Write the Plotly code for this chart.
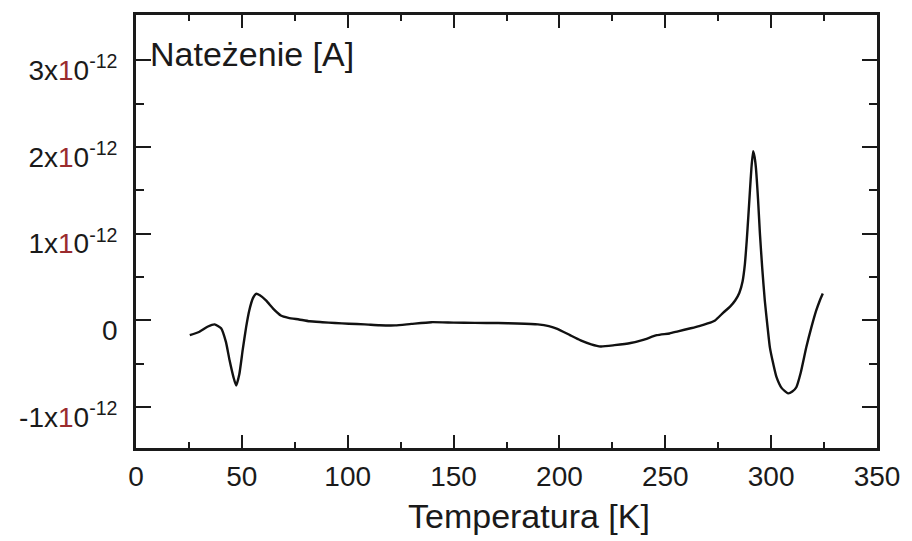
import plotly.graph_objects as go

# Temperature [K] and current [A]
temperature = [25.4, 30, 34, 37.1, 40.2, 42.5, 44.2, 46, 47.3, 48.8, 50.4, 52, 53.5, 55.3, 56.7, 58.5, 61.4, 65, 68.4, 72, 77, 82, 88, 94, 100.5,
               108, 115, 122.4, 130, 139.5, 150, 160, 171, 180, 189.8, 195, 199, 205, 210, 215, 219.5, 226, 233.6, 240, 246, 252, 256,
               262, 266, 270, 273.5, 277.4, 280.6, 283, 285, 286.5, 287.6, 288.5, 289.2, 290, 290.7, 291.5, 292.2, 292.8, 293.8, 294.7,
               295.8, 297, 298.2, 299.4, 301, 302.5, 305, 308, 310, 311.9, 314, 316.6, 319, 321.3, 323, 324.4]
current_e12 = [-0.17, -0.13, -0.07, -0.045, -0.09, -0.25, -0.46, -0.65, -0.75, -0.62, -0.34, -0.08, 0.115, 0.26, 0.307, 0.29, 0.23, 0.13, 0.057, 0.03, 0.011, -0.01, -0.02, -0.03, -0.038,
               -0.045, -0.055, -0.057, -0.04, -0.02, -0.025, -0.028, -0.03, -0.035, -0.046, -0.065, -0.096, -0.17, -0.23, -0.275, -0.3, -0.285, -0.26, -0.22, -0.17, -0.15, -0.125,
               -0.09, -0.065, -0.035, 0.0, 0.09, 0.16, 0.23, 0.32, 0.45, 0.65, 0.93, 1.19, 1.5, 1.76, 1.95, 1.88, 1.76, 1.4, 1.0,
               0.6, 0.23, -0.05, -0.31, -0.5, -0.65, -0.78, -0.84, -0.82, -0.77, -0.6, -0.31, -0.08, 0.115, 0.23, 0.31]
current = [v * 1e-12 for v in current_e12]

y_tick_values = [-1e-12, 0, 1e-12, 2e-12, 3e-12]
red1 = "<span style='color:#9a2b2e'>1</span>"
y_tick_labels = ["-1x" + red1 + "0<sup>-12</sup>", "0", "1x" + red1 + "0<sup>-12</sup>",
                 "2x" + red1 + "0<sup>-12</sup>", "3x" + red1 + "0<sup>-12</sup>"]
x_tick_values = [0, 50, 100, 150, 200, 250, 300, 350]

FONT = "Liberation Sans, Arial, sans-serif"
INK = "#1a1a1a"

fig = go.Figure()
fig.add_trace(go.Scatter(x=temperature, y=current, mode="lines",
                         line=dict(color="#111111", width=2.4, shape="spline", smoothing=0.5),
                         showlegend=False, hoverinfo="skip"))

axis_common = dict(showline=True, linecolor=INK, linewidth=2.8, mirror="ticks", ticks="inside",
                   tickcolor=INK, showgrid=False, zeroline=False)

fig.update_xaxes(range=[0, 350], tickvals=x_tick_values, ticklen=13, tickwidth=2,
                 minor=dict(dtick=25, ticks="inside", ticklen=6, tickwidth=1.6, tickcolor=INK),
                 tickfont=dict(family=FONT, size=28, color=INK), ticklabelstandoff=1, **axis_common)
fig.update_yaxes(range=[-1.47e-12, 3.52e-12], tickvals=y_tick_values, ticktext=y_tick_labels,
                 ticklen=15, tickwidth=2,
                 minor=dict(tickvals=[-0.5e-12, 0.5e-12, 1.5e-12, 2.5e-12], ticks="inside", ticklen=8,
                            tickwidth=1.6, tickcolor=INK),
                 tickfont=dict(family=FONT, size=28, color=INK), ticklabelstandoff=10,
                 ticklabelshift=10, **axis_common)

fig.add_annotation(text="Nateżenie [A]", xref="paper", yref="y", x=0, y=3.07e-12,
                   xanchor="left", yanchor="middle", xshift=12, showarrow=False,
                   font=dict(family=FONT, size=34, color=INK))
fig.add_annotation(text="Temperatura [K]", xref="paper", yref="paper", x=0.53, y=0,
                   xanchor="center", yanchor="middle", yshift=-68, showarrow=False,
                   font=dict(family=FONT, size=34, color=INK))

fig.update_layout(width=912, height=541, margin=dict(l=136, r=31, t=15, b=93),
                  paper_bgcolor="white", plot_bgcolor="white")

fig.write_html("out.html")
